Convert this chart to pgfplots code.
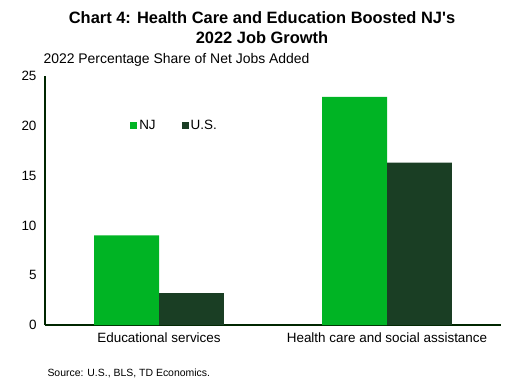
\documentclass[border=0pt]{standalone}
\usepackage{pgfplots}
\pgfplotsset{compat=1.18}
\usepackage{fontspec}
\setmainfont{Liberation Sans}
\definecolor{njgreen}{RGB}{0,180,36}
\definecolor{usgreen}{RGB}{26,62,36}
\begin{document}
\begin{tikzpicture}[x=1bp,y=1bp]
\useasboundingbox (0,0) rectangle (516,385);
\begin{axis}[
  at={(45bp,60bp)}, anchor=south west,
  scale only axis, width=456bp, height=249bp,
  ymin=0, ymax=25, ytick={0,5,...,25},
  xmin=-0.5, xmax=1.5, xtick={0,1},
  xticklabels={Educational services, Health care and social assistance},
  ybar=0pt, bar width=0.285,
  axis x line*=bottom, axis y line*=left,
  axis line style={line width=1.5pt, color=black!85!green},
  major tick length=0pt,
  tick style={draw=none},
  /pgf/number format/assume math mode=true,
  ticklabel style={font=\fontsize{13.5}{15}\selectfont},
  yticklabel style={xshift=-5bp},
  xticklabel style={yshift=-4bp},
  legend style={draw=none, fill=none, at={(0.18,0.80)}, anchor=west, legend columns=2,
    font=\fontsize{13.5}{15}\selectfont, /tikz/every even column/.append style={column sep=24bp}},
  legend image code/.code={\fill[#1] (0bp,-3.5bp) rectangle (7bp,3.5bp);},
]
\addplot[fill=njgreen, draw=none] coordinates {(0,9.0) (1,22.9)};
\addplot[fill=usgreen, draw=none] coordinates {(0,3.2) (1,16.3)};
\legend{NJ, U.S.}
\end{axis}
\node[font=\bfseries\fontsize{16.5}{20}\selectfont, align=center] at (262,357) {Chart 4: Health Care and Education Boosted NJ\textquotesingle s\\2022 Job Growth};
\node[anchor=west, font=\fontsize{14}{16}\selectfont] at (40,325) {2022 Percentage Share of Net Jobs Added};
\node[anchor=west, font=\fontsize{10.5}{12}\selectfont] at (44,12) {Source: U.S., BLS, TD Economics.};
\end{tikzpicture}
\end{document}
